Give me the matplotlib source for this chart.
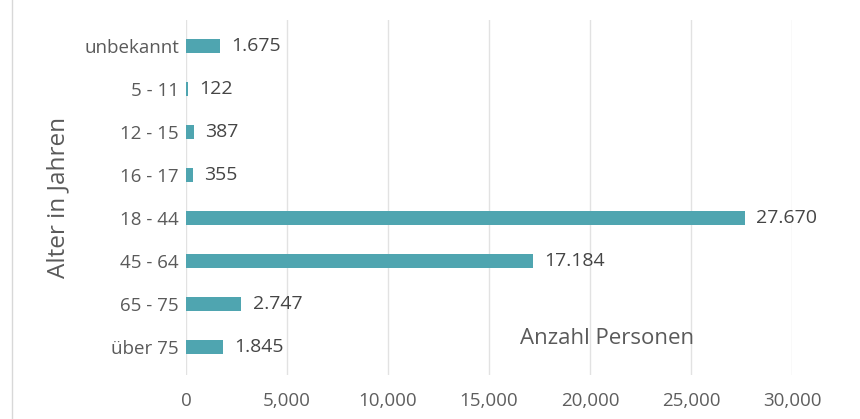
import matplotlib.pyplot as plt
from matplotlib.lines import Line2D

# age groups, bottom to top as drawn
categories = ["über 75", "65 - 75", "45 - 64", "18 - 44", "16 - 17", "12 - 15", "5 - 11", "unbekannt"]
persons = [1845, 2747, 17184, 27670, 355, 387, 122, 1675]
bar_labels = ["1.845", "2.747", "17.184", "27.670", "355", "387", "122", "1.675"]
xticks = [0, 5000, 10000, 15000, 20000, 25000, 30000]
xtick_labels = ["0", "5,000", "10,000", "15,000", "20,000", "25,000", "30,000"]

plt.rcParams['font.family'] = ['Open Sans', 'DejaVu Sans']

fig = plt.figure(figsize=(8.6, 4.19), dpi=100)
ax = fig.add_axes([186/860, 1-375/419, (792-186)/860, 355/419])

ypos = list(range(len(categories)))
ax.barh(ypos, persons, height=0.33, color='#4fa5b0', zorder=3)

for y, v, lab in zip(ypos, persons, bar_labels):
    ax.annotate(lab, (v, y), xytext=(8, 0), textcoords='offset points',
                va='center', ha='left', fontsize=14, color='#454545')

ax.set_xlim(0, 30000)
ax.set_ylim(-0.65, 7.6)
ax.set_xticks(xticks)
ax.set_xticklabels(xtick_labels, fontsize=13.5, color='#5e5e5e')
ax.set_yticks(ypos)
ax.set_yticklabels(categories, fontsize=13.5, color='#5a5a5a')
ax.tick_params(axis='both', length=0)
ax.tick_params(axis='x', pad=12)
ax.tick_params(axis='y', pad=5)

ax.grid(axis='x', color='#e2e2e2', linewidth=1, zorder=0)
for s in ax.spines.values():
    s.set_visible(False)

ax.set_ylabel("Alter in Jahren", fontsize=17.5, color='#5a5a5a')
ax.yaxis.set_label_coords(-0.19, 0.5)
ax.text(20840, 0.19, "Anzahl Personen", fontsize=16, color='#5a5a5a', ha='center', va='center')

# thin frame line at the left edge
fig.add_artist(Line2D([12/860, 12/860], [0, 1], color='#d8d8d8', linewidth=1))

plt.savefig("out.png", dpi=100)
